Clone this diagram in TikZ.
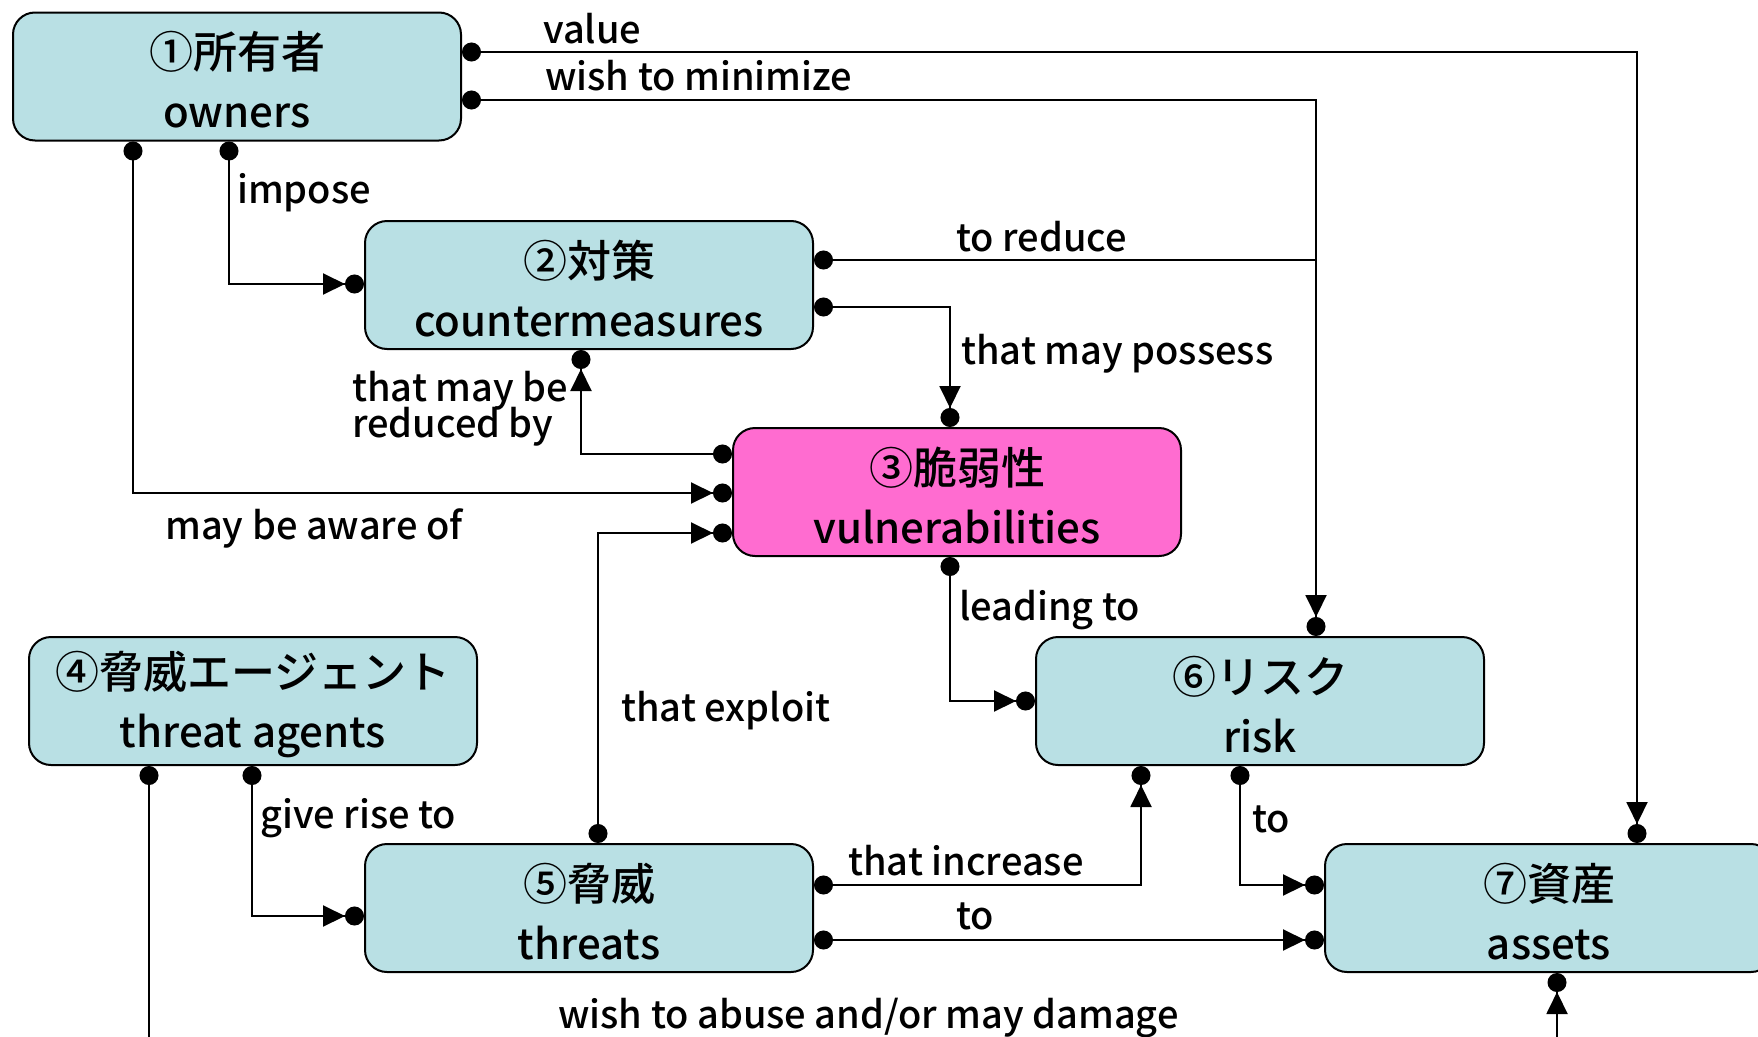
\documentclass[tikz,border=0pt]{standalone}
\usepackage{fontspec}
\setmainfont{Noto Sans CJK JP}[BoldFont={Noto Sans CJK JP Medium}]
\usetikzlibrary{arrows.meta}
\definecolor{boxcyan}{RGB}{185,224,228}
\definecolor{boxpink}{RGB}{255,108,208}
% two-line entity caption: Japanese name over English name
\newcommand\entitytext[2]{\rule{0pt}{44pt}{\fontsize{44}{59}\selectfont #1}\\{\fontsize{42}{59}\selectfont #2}}
% label font with a fixed line pitch
\newcommand\labelfont{\bfseries\fontsize{38}{36}\selectfont\lineskiplimit=-100pt\relax}

\begin{document}
\begin{tikzpicture}[x=1pt,y=-1pt,
  entity/.style={draw=black, line width=2pt, rounded corners=22pt, fill=boxcyan,
    minimum width=448pt, minimum height=128pt, align=center, inner sep=0pt,
    font=\bfseries\fontsize{44}{59}\selectfont},
  hot/.style={entity, fill=boxpink},
  conn/.style={line width=2pt,
    {Circle[length=19pt]}-{Triangle[length=22pt,width=21pt,sep=0pt]Circle[length=19pt]}},
  link/.style={line width=2pt, {Circle[length=19pt]}-},
  lbl/.style={font=\labelfont, anchor=base west, inner sep=0pt, align=left}
]
\useasboundingbox (0,0) rectangle (1758,1036);
\clip (0,0) rectangle (1758,1036);

% entities
\node[entity] (owners)  at (237,76.5) {\entitytext{①所有者}{owners}};
\node[entity] (cm)      at (589,285)  {\entitytext{②対策}{countermeasures}};
\node[hot]    (vuln)    at (957,492)  {\entitytext{③脆弱性}{vulnerabilities}};
\node[entity] (agents)  at (253,701)  {\entitytext{④脅威エージェント}{threat agents}};
\node[entity] (threats) at (589,908)  {\entitytext{⑤脅威}{threats}};
\node[entity] (risk)    at (1260,701) {\entitytext{⑥リスク}{risk}};
\node[entity] (assets)  at (1549,908) {\entitytext{⑦資産}{assets}};

\coordinate (merge) at (1316,260);

% relations
\draw[conn] (owners.east |- 0,52) -| (assets.north -| 1637,0);
\draw[conn] (owners.east |- 0,100) -| (risk.north -| merge);
\draw[link] (cm.east |- merge) -- (merge);
\draw[conn] (cm.east |- 0,307) -| (vuln.north -| 950,0);
\draw[conn] (vuln.west |- 0,454) -| (cm.south -| 581,0);
\draw[conn] (owners.south -| 133,0) |- (vuln.west |- 0,493);
\draw[conn] (owners.south -| 229,0) |- (cm.west |- 0,284);
\draw[conn] (threats.north -| 598,0) |- (vuln.west |- 0,533);
\draw[conn] (vuln.south -| 950,0) |- (risk.west |- 0,701);
\draw[conn] (agents.south -| 252,0) |- (threats.west |- 0,916);
\draw[conn] (agents.south -| 149,0) -- (149,1090) -| (assets.south -| 1557,0);
\draw[conn] (threats.east |- 0,885) -| (risk.south -| 1141,0);
\draw[conn] (threats.east |- 0,940) -- (assets.west |- 0,940);
\draw[conn] (risk.south -| 1240,0) |- (assets.west |- 0,885);

% relation labels
\node[lbl] (l1)  at (543,43)   {value};
\node[lbl] (l2)  at (545,90)   {wish to minimize};
\node[lbl] (l3)  at (237,203)  {impose};
\node[lbl] (l4)  at (956,251)  {to reduce};
\node[lbl] (l5)  at (961,364)  {that may possess};
\node[lbl] (l6)  at (352,437)  {that may be\\reduced by};
\node[lbl] (l7)  at (165,539)  {may be aware of};
\node[lbl] (l8)  at (959,620)  {leading to};
\node[lbl] (l9)  at (621,721)  {that exploit};
\node[lbl] (l10) at (260,828)  {give rise to};
\node[lbl] (l11) at (848,875)  {that increase};
\node[lbl] (l12) at (956,929)  {to};
\node[lbl] (l13) at (1252,832) {to};
\node[lbl] (l14) at (558,1028) {wish to abuse and/or may damage};
\end{tikzpicture}
\end{document}
